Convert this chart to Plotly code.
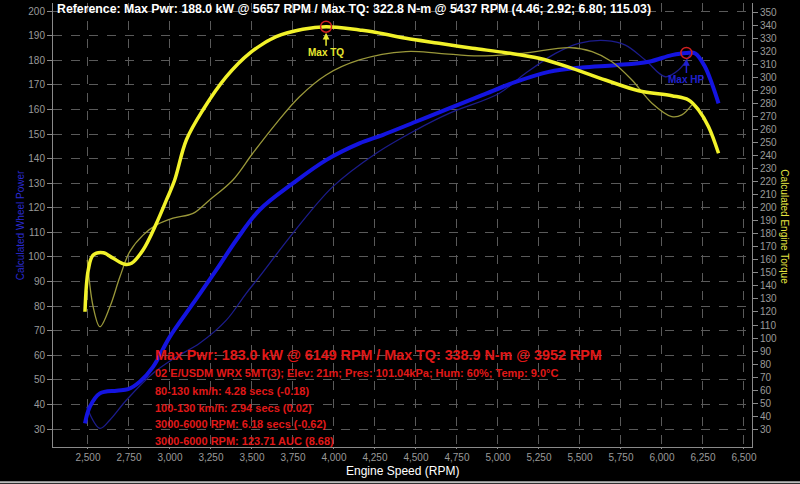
import plotly.graph_objects as go

# ---- Data ----
# Current run: engine torque (N-m, right axis)
tq_rpm = [2482, 2502, 2532, 2593, 2654, 2725, 2766, 2836, 2918, 2979, 3029, 3100, 3201, 3344,
          3485, 3648, 3810, 3952, 4155, 4235, 4439, 4641, 4844, 5047, 5250, 5452, 5655, 5858,
          6060, 6162, 6223, 6284, 6345]
tq = [120.2, 152.2, 163.7, 165.5, 161.2, 156.6, 157.4, 167.6, 188.1, 206.0, 221.3, 252.0, 275.0,
      300.6, 318.5, 331.3, 337.0, 338.9, 336.4, 335.1, 330.0, 326.2, 322.4, 319.0, 314.7, 307.0,
      298.0, 289.8, 286.0, 282.7, 275.0, 262.2, 241.8]

# Current run: wheel power (kW, left axis)
pw_rpm = [2482, 2512, 2573, 2675, 2745, 2816, 2897, 2999, 3141, 3283, 3405, 3546, 3749, 3952,
          4155, 4296, 4499, 4702, 4904, 5108, 5310, 5513, 5716, 5919, 6060, 6149, 6203, 6263,
          6304, 6345]
pw = [32.3, 39.1, 44.5, 45.6, 46.2, 49.2, 55.3, 67.5, 81.1, 94.7, 106.9, 119.1, 129.9, 139.4,
      146.2, 149.6, 155.0, 160.4, 165.8, 171.2, 175.3, 177.1, 178.0, 179.4, 182.1, 183.0, 182.8,
      177.3, 170.6, 162.5]

# Reference run: engine torque
rtq_rpm = [2496, 2532, 2573, 2634, 2695, 2755, 2836, 2918, 3019, 3141, 3242, 3384, 3505, 3648,
           3790, 3952, 4155, 4439, 4641, 4884, 5148, 5437, 5574, 5695, 5817, 5939, 6060, 6121,
           6182]
rtq = [160.0, 124.0, 108.7, 124.0, 147.0, 166.3, 179.0, 186.8, 192.0, 195.7, 206.0, 221.3, 241.8,
       264.8, 285.2, 301.9, 313.4, 319.8, 318.5, 316.5, 318.5, 322.8, 319.8, 312.0, 298.0, 280.2,
       269.9, 271.2, 278.9]

# Reference run: wheel power
rpw_rpm = [2492, 2573, 2634, 2735, 2897, 3040, 3181, 3344, 3465, 3546, 3749, 3992, 4256, 4499,
           4702, 5006, 5168, 5351, 5493, 5657, 5777, 5898, 6020, 6101, 6182]
rpw = [39.1, 30.3, 33.7, 41.8, 52.7, 59.4, 64.9, 74.3, 85.2, 92.0, 109.6, 128.5, 142.1, 151.6,
       158.4, 166.5, 174.7, 182.8, 186.9, 188.0, 186.2, 180.1, 173.3, 176.0, 183.3]

max_tq_rpm, max_tq = 3952, 338.9
max_hp_rpm, max_hp = 6149, 183.0

x_ticks = list(range(2500, 6501, 250))
y_ticks = list(range(30, 201, 10))
y2_ticks = list(range(30, 351, 10))

header = ("Reference: Max Pwr: 188.0 kW @ 5657 RPM / Max TQ: 322.8 N-m @ 5437 RPM "
          "(4.46; 2.92; 6.80; 115.03)")
red_title = "Max Pwr: 183.0 kW @ 6149 RPM / Max TQ: 338.9 N-m @ 3952 RPM"
red_lines = [
    "02 E/USDM WRX 5MT(3); Elev: 21m; Pres: 101.04kPa; Hum: 60%; Temp: 9.0°C",
    "80-130 km/h: 4.28 secs (-0.18)",
    "100-130 km/h: 2.94 secs (0.02)",
    "3000-6000 RPM: 6.18 secs (-0.62)",
    "3000-6000 RPM: 123.71 AUC (8.68)",
]

FONT = "Liberation Sans, Arial, sans-serif"
TICK_COLOR = "#9a9a9a"

fig = go.Figure()

# reference (thin) traces
fig.add_trace(go.Scatter(x=rpw_rpm, y=rpw, mode="lines", yaxis="y",
                         line=dict(color="#1c1c8c", width=1.3, shape="spline")))
# current power
fig.add_trace(go.Scatter(x=pw_rpm, y=pw, mode="lines", yaxis="y",
                         line=dict(color="#1414e0", width=4, shape="spline")))
fig.add_trace(go.Scatter(x=[max_hp_rpm], y=[max_hp], mode="markers", yaxis="y",
                         marker=dict(symbol="circle-open", size=11, color="#d02020",
                                     line=dict(width=1.5, color="#d02020"))))

fig.add_trace(go.Scatter(x=rtq_rpm, y=rtq, mode="lines", yaxis="y2",
                         line=dict(color="#9a983a", width=1.3, shape="spline")))
fig.add_trace(go.Scatter(x=tq_rpm, y=tq, mode="lines", yaxis="y2",
                         line=dict(color="#f2f22a", width=3.5, shape="spline")))
fig.add_trace(go.Scatter(x=[max_tq_rpm], y=[max_tq], mode="markers", yaxis="y2",
                         marker=dict(symbol="circle-open", size=11, color="#d02020",
                                     line=dict(width=1.5, color="#d02020"))))

annotations = [
    dict(x=max_tq_rpm, y=max_tq, xref="x", yref="y2", text="<b>Max TQ</b>", showarrow=True,
         ax=0, ay=26, arrowhead=2, arrowsize=0.9, arrowwidth=1.5, arrowcolor="#e8e830",
         standoff=6, font=dict(family=FONT, size=10, color="#e8e830")),
    dict(x=max_hp_rpm, y=max_hp, xref="x", yref="y", text="<b>Max HP</b>", showarrow=True,
         ax=0, ay=27, arrowhead=2, arrowsize=0.9, arrowwidth=1.5, arrowcolor="#2020d0",
         standoff=6, font=dict(family=FONT, size=10, color="#2020d0")),
    dict(x=0.003, y=0.9865, xref="paper", yref="paper", xanchor="left", yanchor="middle",
         text="<b>" + header + "</b>", showarrow=False,
         font=dict(family=FONT, size=12.3, color="#ffffff")),
    dict(x=0.143, y=0.2072, xref="paper", yref="paper", xanchor="left", yanchor="middle",
         text="<b>" + red_title + "</b>", showarrow=False,
         font=dict(family=FONT, size=14.3, color="#e01818")),
    dict(x=-0.047, y=0.5, xref="paper", yref="paper", xanchor="center", yanchor="middle",
         text="Calculated Wheel Power", textangle=-90, showarrow=False,
         font=dict(family=FONT, size=10, color="#2a2ad0")),
    dict(x=1.047, y=0.495, xref="paper", yref="paper", xanchor="center", yanchor="middle",
         text="Calculated Engine Torque", textangle=90, showarrow=False,
         font=dict(family=FONT, size=10, color="#e6e640")),
    dict(x=0.5, y=-0.0545, xref="paper", yref="paper", xanchor="center", yanchor="middle",
         text="Engine Speed (RPM)", showarrow=False,
         font=dict(family=FONT, size=12, color="#ffffff")),
]
line_y = [0.166, 0.1268, 0.0885, 0.0511, 0.0135]
for txt, yy in zip(red_lines, line_y):
    annotations.append(dict(x=0.143, y=yy, xref="paper", yref="paper", xanchor="left",
                            yanchor="middle", text="<b>" + txt + "</b>", showarrow=False,
                            font=dict(family=FONT, size=11, color="#e01818")))

fig.update_layout(
    width=800, height=484,
    margin=dict(l=53, r=48, t=3, b=37, autoexpand=False),
    paper_bgcolor="#000000", plot_bgcolor="#000000",
    showlegend=False,
    font=dict(family=FONT, size=10, color=TICK_COLOR),
    xaxis=dict(range=[2287, 6549], tickvals=x_ticks, tickformat=",d", automargin=False,
               showgrid=True, gridcolor="#5a5a5a", griddash="dash", gridwidth=1,
               showline=True, linecolor="#8a8a8a", linewidth=1,
               ticks="outside", ticklen=1, tickcolor="#8a8a8a",
               tickfont=dict(family=FONT, size=10, color=TICK_COLOR), zeroline=False),
    yaxis=dict(range=[22.7, 203.3], tickvals=y_ticks, automargin=False,
               showgrid=True, gridcolor="#5a5a5a", griddash="dash", gridwidth=1,
               showline=True, linecolor="#8a8a8a", linewidth=1,
               ticks="outside", ticklen=5, tickcolor="#8a8a8a",
               tickfont=dict(family=FONT, size=10, color=TICK_COLOR), zeroline=False),
    yaxis2=dict(range=[16.4, 357.1], tickvals=y2_ticks, overlaying="y", side="right",
                automargin=False,
                showgrid=False, showline=True, linecolor="#8a8a8a", linewidth=1,
                ticks="outside", ticklen=5, tickcolor="#8a8a8a",
                tickfont=dict(family=FONT, size=10, color=TICK_COLOR), zeroline=False),
    annotations=annotations,
    shapes=[dict(type="line", xref="paper", yref="paper", x0=-0.08, x1=1.08,
                 y0=-0.0795, y1=-0.0795, line=dict(color="#bdbdbd", width=2))],
)

fig.write_html(
    "out.html",
    config={"displayModeBar": False},
    post_script="document.body.style.margin='0';document.body.style.background='#000';",
)
